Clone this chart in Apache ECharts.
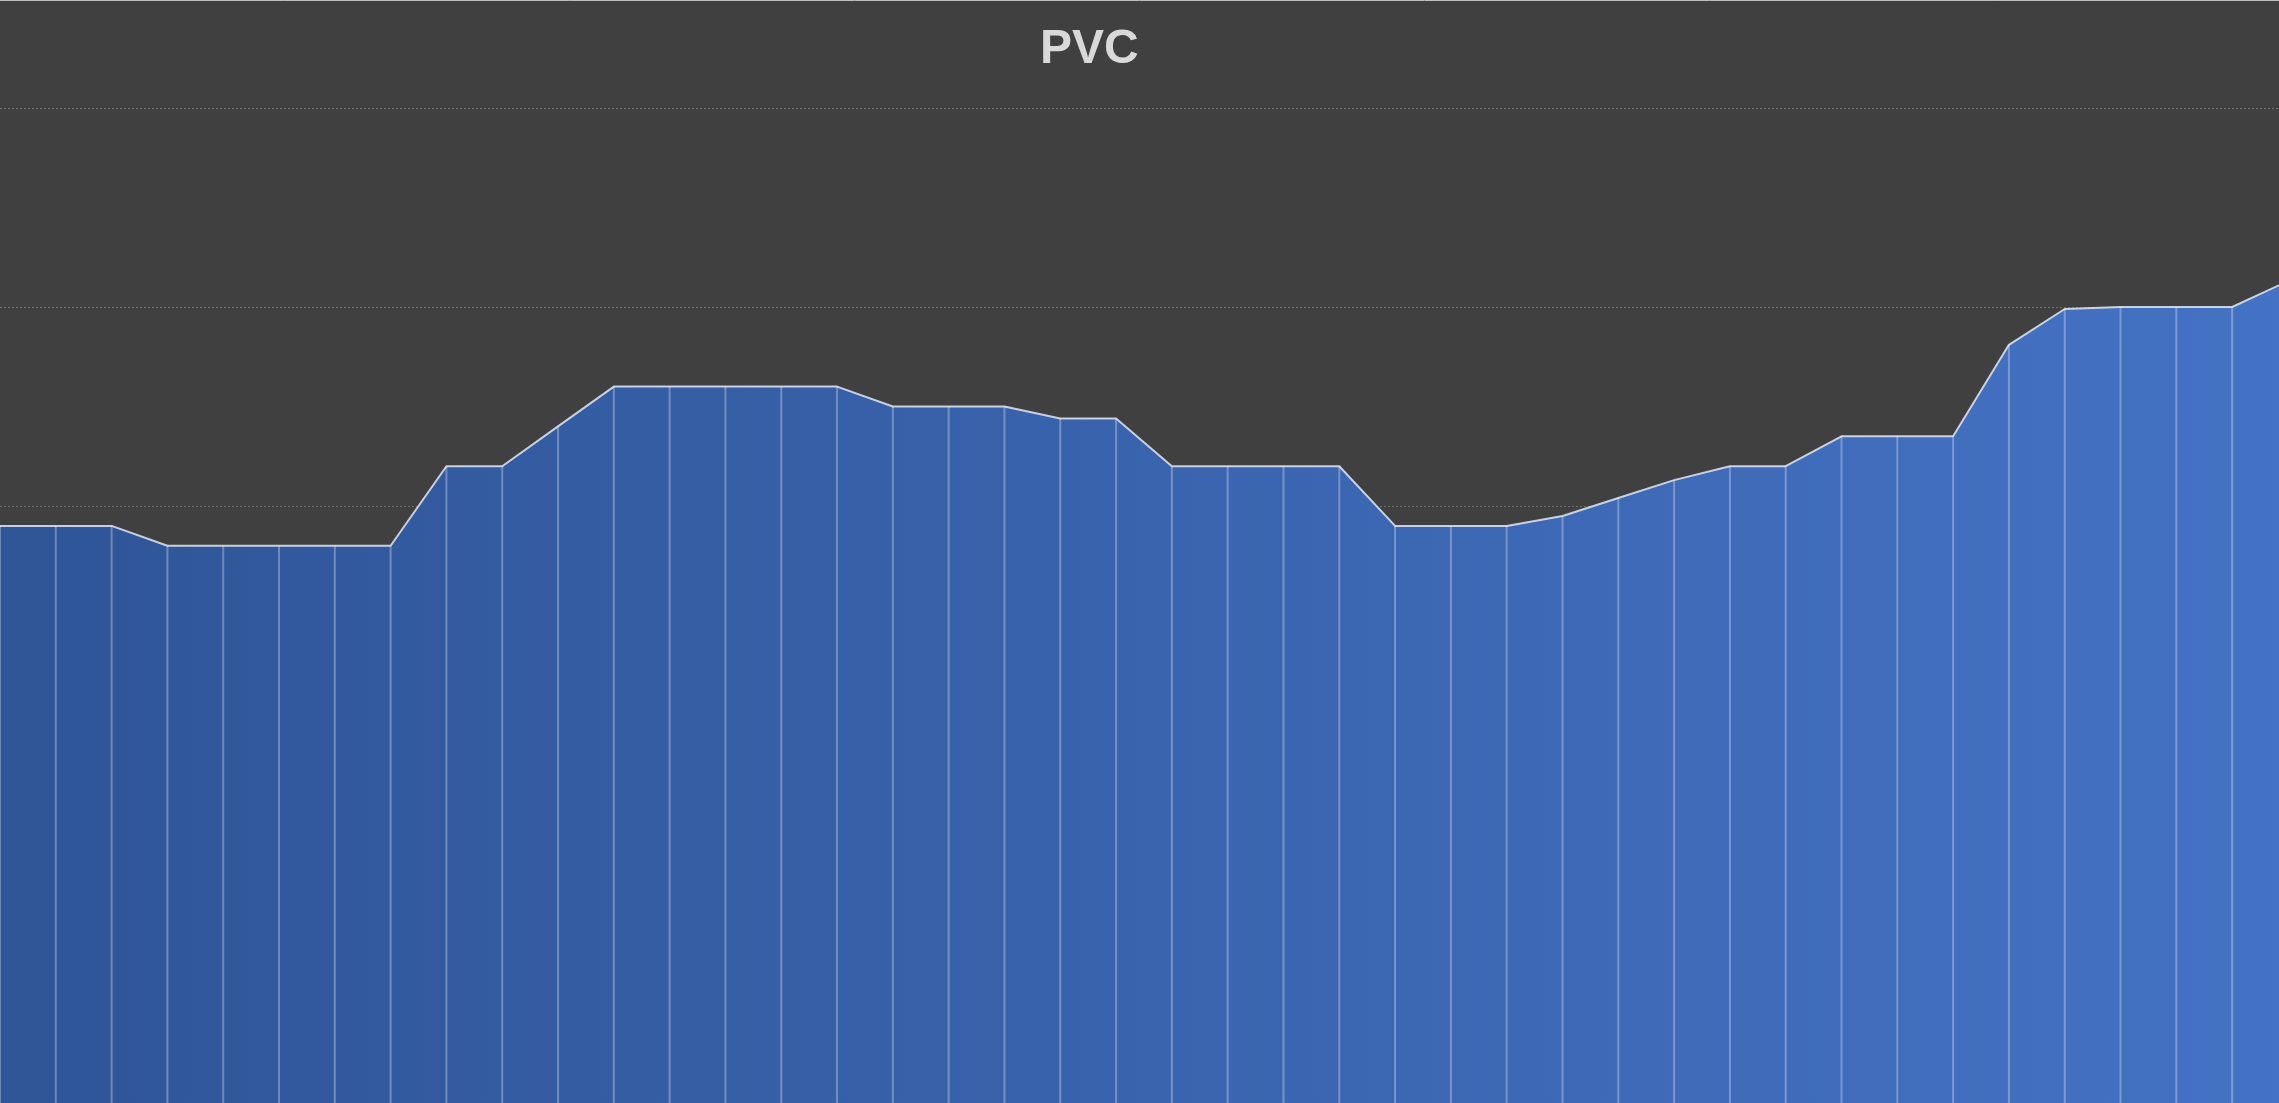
<!DOCTYPE html>
<html>
<head>
<meta charset="utf-8">
<script src="https://cdn.jsdelivr.net/npm/echarts@6/dist/echarts.min.js"></script>
<style>
html,body{margin:0;padding:0;background:#404040;overflow:hidden;}
#chart{width:2279px;height:1103px;}
</style>
</head>
<body>
<div id="chart"></div>
<script>
const titleText = 'PVC';
const categories = ['1','2','3','4','5','6','7','8','9','10','11','12','13','14','15','16','17','18','19','20','21','22','23','24','25','26','27','28','29','30','31','32','33','34','35','36','37','38','39','40','41','42'];
const prices = [6900,6900,6900,6800,6800,6800,6800,6800,7200,7200,7400,7600,7600,7600,7600,7600,7500,7500,7500,7440,7440,7200,7200,7200,7200,6900,6900,6900,6950,7040,7130,7200,7200,7350,7350,7350,7810,7990,8000,8000,8000,8130];
const yMin = 4000, yMax = 9000, yStep = 1000;
// visible x range: last category lies just past the right edge
const xVisibleMax = 40.84;

const points = categories.map((c,i)=>[i, prices[i]]);

const chart = echarts.init(document.getElementById('chart'), null, {renderer:'canvas'});
chart.setOption({
  backgroundColor: '#404040',
  animation: false,
  title: {
    text: titleText, left: 1035, top: 21,
    textStyle: {color:'#d9d9d9', fontSize:48, fontWeight:'bold', fontFamily:'Liberation Sans, Arial, sans-serif'}
  },
  graphic: [{
    type:'line', shape:{x1:0,y1:0.5,x2:2279,y2:0.5}, style:{stroke:'#bdbdbd', lineWidth:1}, z:100
  }],
  grid: {left:0, right:0, top:108, height:996, containLabel:false},
  xAxis: {
    type:'value', min:0, max:xVisibleMax,
    axisLine:{show:false}, axisTick:{show:false}, axisLabel:{show:false}, splitLine:{show:false}
  },
  yAxis: {
    type:'value', min:yMin, max:yMax, interval:yStep,
    axisLine:{show:false}, axisTick:{show:false}, axisLabel:{show:false},
    splitLine:{show:true, lineStyle:{color:'#6e6e6e', width:1, type:[2,2]}}
  },
  series: [
    {
      type:'line', data:points, symbol:'none', z:3, clip:true,
      lineStyle:{color:'rgba(225,232,245,0.85)', width:2},
      areaStyle:{
        opacity:1,
        color:new echarts.graphic.LinearGradient(0,0,1,0,[{offset:0,color:'#2f5597'},{offset:1,color:'#4472c4'}])
      }
    },
    {
      type:'custom', z:4, clip:true,
      data: points,
      renderItem: function(params, api){
        const top = api.coord([api.value(0), api.value(1)]);
        const bot = api.coord([api.value(0), yMin]);
        return {type:'line', shape:{x1:top[0],y1:top[1],x2:bot[0],y2:bot[1]+2},
          style:{stroke:'rgba(255,255,255,0.3)', lineWidth:2}};
      }
    }
  ]
});
</script>
</body>
</html>
